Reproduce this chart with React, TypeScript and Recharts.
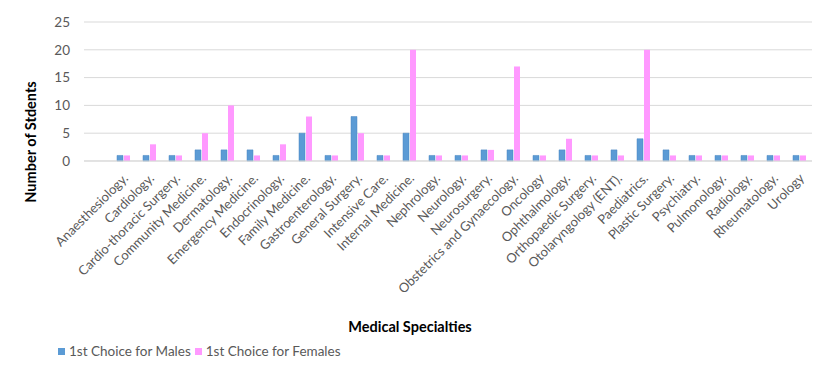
import { BarChart, Bar, XAxis, YAxis, CartesianGrid } from 'recharts';

const SPECIALTIES = [
  '',
  'Anaesthesiology.',
  'Cardiology.',
  'Cardio-thoracic Surgery.',
  'Community Medicine.',
  'Dermatology.',
  'Emergency Medicine.',
  'Endocrinology.',
  'Family Medicine.',
  'Gastroenterology.',
  'General Surgery.',
  'Intensive Care.',
  'Internal Medicine.',
  'Nephrology.',
  'Neurology.',
  'Neurosurgery.',
  'Obstetrics and Gynaecology.',
  'Oncology',
  'Ophthalmology.',
  'Orthopaedic Surgery.',
  'Otolaryngology (ENT).',
  'Paediatrics.',
  'Plastic Surgery.',
  'Psychiatry.',
  'Pulmonology.',
  'Radiology.',
  'Rheumatology.',
  'Urology',
];

const MALES = [null, 1, 1, 1, 2, 2, 2, 1, 5, 1, 8, 1, 5, 1, 1, 2, 2, 1, 2, 1, 2, 4, 2, 1, 1, 1, 1, 1];
const FEMALES = [null, 1, 3, 1, 5, 10, 1, 3, 8, 1, 5, 1, 20, 1, 1, 2, 17, 1, 4, 1, 1, 20, 1, 1, 1, 1, 1, 1];

const Y_TICKS = [0, 5, 10, 15, 20, 25];

const MALE_COLOR = '#5B9BD5';
const FEMALE_COLOR = '#FF99FF';
const TEXT = '#595959';
const FONT = 'Lato, "Open Sans", sans-serif';

const data = SPECIALTIES.map((name, i) => ({ name, males: MALES[i], females: FEMALES[i] }));

function SlantTick({ x, y, payload }: any) {
  return (
    <g transform={`translate(${x + 6},${y + 10})`}>
      <text
        x={0}
        y={0}
        textAnchor="end"
        transform="rotate(-45)"
        fill={TEXT}
        fontSize={13}
        fontFamily={FONT}
      >
        {payload.value}
      </text>
    </g>
  );
}

export default function App() {
  return (
    <div style={{ position: 'absolute', left: 0, top: 0, width: 839, height: 368, background: '#fff', fontFamily: FONT }}>
      <BarChart
        width={839}
        height={368}
        data={data}
        margin={{ top: 22, right: 27, left: 44, bottom: 57 }}
        barSize={6}
        barGap={1}
      >
        <CartesianGrid vertical={false} stroke="#d9d9d9" />
        <XAxis
          dataKey="name"
          interval={0}
          tickLine={false}
          axisLine={{ stroke: '#d9d9d9' }}
          tick={<SlantTick />}
          height={150}
        />
        <YAxis
          width={40}
          domain={[0, 25]}
          ticks={Y_TICKS}
          axisLine={false}
          tickLine={false}
          tickSize={0}
          tickMargin={14}
          tick={{ fill: TEXT, fontSize: 13.5, fontFamily: FONT }}
        />
        <Bar dataKey="males" fill={MALE_COLOR} stroke="#4a86c0" strokeWidth={0.5} isAnimationActive={false} />
        <Bar dataKey="females" fill={FEMALE_COLOR} isAnimationActive={false} />
      </BarChart>

      <div
        style={{
          position: 'absolute',
          left: 30,
          top: 142,
          transform: 'translate(-50%, -50%) rotate(-90deg)',
          whiteSpace: 'nowrap',
          fontWeight: 'bold',
          fontSize: 14.5,
          color: '#000',
        }}
      >
        Number of Stdents
      </div>
      <div
        style={{
          position: 'absolute',
          left: 410,
          top: 326,
          transform: 'translate(-50%, -50%)',
          whiteSpace: 'nowrap',
          fontWeight: 'bold',
          fontSize: 14.5,
          color: '#000',
        }}
      >
        Medical Specialties
      </div>
      <div
        style={{
          position: 'absolute',
          left: 58,
          top: 343,
          display: 'flex',
          alignItems: 'center',
          fontSize: 13.5,
          color: TEXT,
          whiteSpace: 'nowrap',
        }}
      >
        <span style={{ width: 7, height: 7, background: MALE_COLOR, marginRight: 4 }} />
        <span style={{ marginRight: 4 }}>1st Choice for Males</span>
        <span style={{ width: 7, height: 7, background: FEMALE_COLOR, marginRight: 4 }} />
        <span>1st Choice for Females</span>
      </div>
    </div>
  );
}
